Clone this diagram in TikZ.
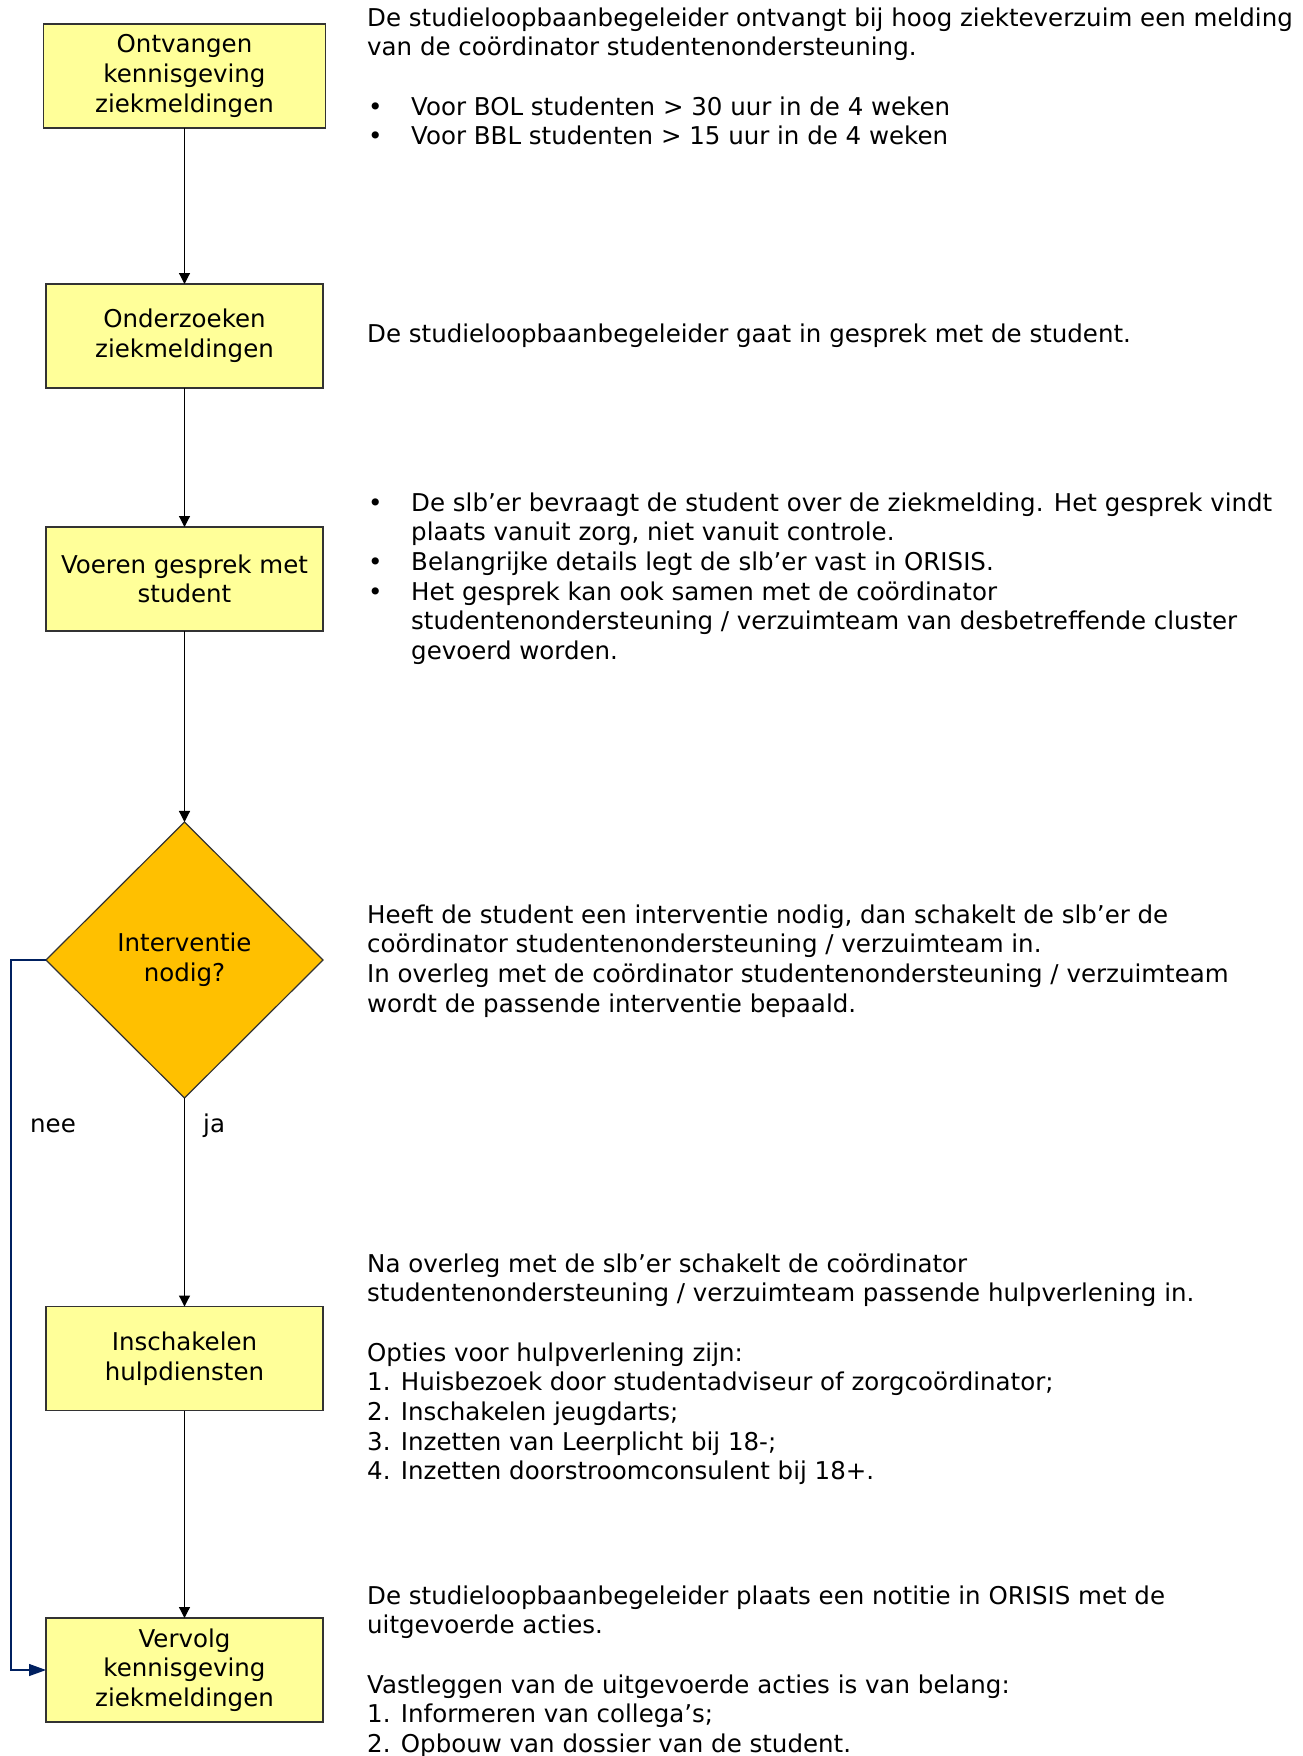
\documentclass[tikz,border=0pt]{standalone}
\usepackage{fontspec}
\setmainfont{DejaVu Sans}
\usetikzlibrary{positioning,arrows.meta,shapes.geometric}

\definecolor{geel}{RGB}{255,255,153}
\definecolor{oranje}{RGB}{255,192,0}
\definecolor{donkerblauw}{RGB}{0,32,96}

\newcommand{\opsom}{\makebox[44pt][l]{\hspace{1pt}•}}
\newcommand{\inspring}{\hspace*{44pt}}

\begin{document}
\begin{tikzpicture}[
x=1pt,y=-1pt,
font=\fontsize{24.5}{29.7}\selectfont,
stap/.style={
draw=black!80,
fill=geel,
line width=1.2pt,
minimum width=277pt,
minimum height=104pt,
inner sep=0pt,
outer sep=0pt,
align=center
},
keuze/.style={
diamond,
draw=black!80,
fill=oranje,
line width=1.2pt,
minimum width=277pt,
minimum height=276pt,
inner sep=0pt,
outer sep=0pt,
align=center
},
uitleg/.style={
anchor=base west,
inner sep=0pt
},
>={Triangle[width=11pt,length=11pt]}
]

\useasboundingbox (0,0) rectangle (1303,1756);

\node (ontvangen)[stap,minimum width=282pt] at (184.5,76){Ontvangen\\kennisgeving\\ziekmeldingen};

\node (onderzoeken)[stap,below=156pt of ontvangen]{Onderzoeken\\ziekmeldingen};

\node (gesprek)[stap,below=139pt of onderzoeken]{Voeren gesprek met\\student};

\node (interventie)[keuze,below=191pt of gesprek]{Interventie\\nodig?};

\node (inschakelen)[stap,below=208.5pt of interventie]{Inschakelen\\hulpdiensten};

\node (vervolg)[stap,below=207.5pt of inschakelen]{Vervolg\\kennisgeving\\ziekmeldingen};

\coordinate (hoek) at (11,960);

\draw[->,line width=1.2pt](ontvangen)--(onderzoeken);
\draw[->,line width=1.2pt](onderzoeken)--(gesprek);
\draw[->,line width=1.2pt](gesprek)--(interventie);
\draw[->,line width=1.2pt](interventie)--(inschakelen);
\draw[->,line width=1.2pt](inschakelen)--(vervolg);
\draw[-{Triangle[width=12pt,length=17pt]},line width=1.2pt,donkerblauw](interventie.west)--(hoek)|-(vervolg.west);

\node (nee)[uitleg] at (30,1132){nee};
\node (ja)[uitleg] at (203,1132){ja};

\node (melding)[uitleg] at (367,26){\parbox[t]{935pt}{De studieloopbaanbegeleider ontvangt bij hoog ziekteverzuim een melding\\
van de coördinator studentenondersteuning.\\[29.7pt]
\opsom Voor BOL studenten > 30 uur in de 4 weken\\
\opsom Voor BBL studenten > 15 uur in de 4 weken}};

\node (gesprektekst)[uitleg] at (367,342){De studieloopbaanbegeleider gaat in gesprek met de student.};

\node (bevragen)[uitleg] at (367,511){\parbox[t]{935pt}{\opsom De slb’er bevraagt de student over de ziekmelding. Het gesprek vindt\\
\inspring plaats vanuit zorg, niet vanuit controle.\\
\opsom Belangrijke details legt de slb’er vast in ORISIS.\\
\opsom Het gesprek kan ook samen met de coördinator\\
\inspring studentenondersteuning / verzuimteam van desbetreffende cluster\\
\inspring gevoerd worden.}};

\node (overleg)[uitleg] at (367,923){\parbox[t]{935pt}{Heeft de student een interventie nodig, dan schakelt de slb’er de\\
coördinator studentenondersteuning / verzuimteam in.\\
In overleg met de coördinator studentenondersteuning / verzuimteam\\
wordt de passende interventie bepaald.}};

\node (opties)[uitleg] at (367,1272){\parbox[t]{935pt}{Na overleg met de slb’er schakelt de coördinator\\
studentenondersteuning / verzuimteam passende hulpverlening in.\\[29.7pt]
Opties voor hulpverlening zijn:\\
1. Huisbezoek door studentadviseur of zorgcoördinator;\\
2. Inschakelen jeugdarts;\\
3. Inzetten van Leerplicht bij 18-;\\
4. Inzetten doorstroomconsulent bij 18+.}};

\node (vastleggen)[uitleg] at (367,1604){\parbox[t]{935pt}{De studieloopbaanbegeleider plaats een notitie in ORISIS met de\\
uitgevoerde acties.\\[29.7pt]
Vastleggen van de uitgevoerde acties is van belang:\\
1. Informeren van collega’s;\\
2. Opbouw van dossier van de student.}};

\end{tikzpicture}
\end{document}
